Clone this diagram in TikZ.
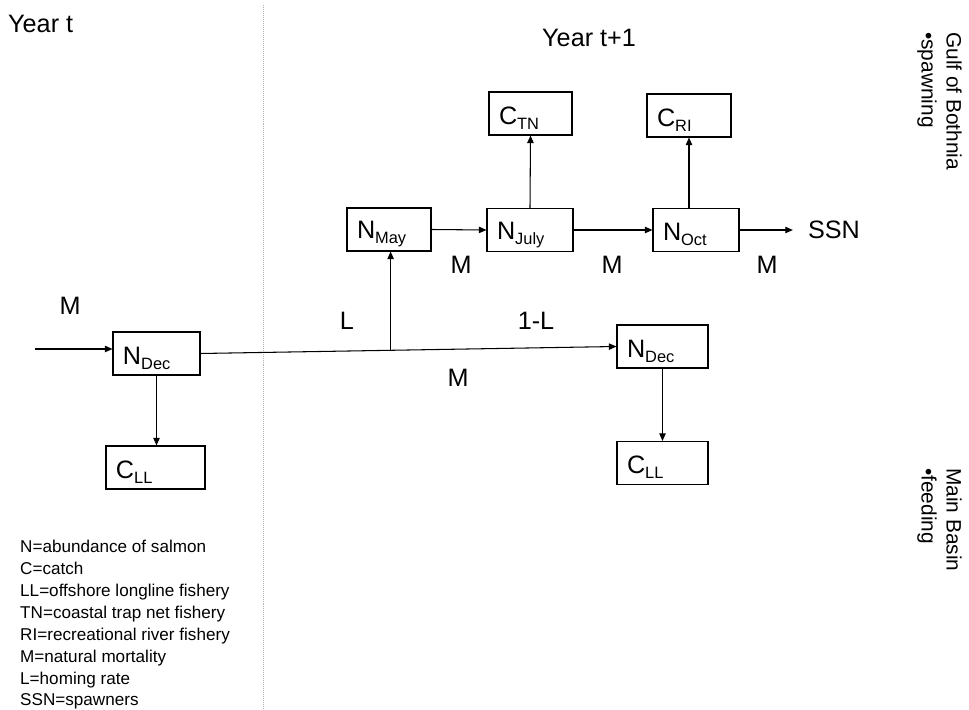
\documentclass[tikz,border=0pt]{standalone}
\usepackage{fontspec}
\setmainfont{Liberation Sans}
\usetikzlibrary{arrows.meta,calc,positioning}
\newcommand{\lowtxt}[1]{\raisebox{-4.5pt}{\fontsize{14}{14}\selectfont #1}}
\tikzset{
    mybox/.style={draw=black,line width=0.9pt,minimum height=1.29cm,inner xsep=0.3cm,inner ysep=0pt,
        text width=#1,align=left,font=\fontsize{21.5}{24}\selectfont,
        execute at begin node={\rule[-5pt]{0pt}{28pt}}},
    myarrow/.style={line width=0.9pt,draw=black,-{Triangle[length=6.5pt,width=5.5pt]}},
    mylabel/.style={inner sep=0pt,font=\fontsize{21.5}{24}\selectfont},
    myside/.style={inner sep=0pt,align=left,rotate=-90,anchor=north west,font=\fontsize{17.8}{21.4}\selectfont},
    mylegend/.style={inner sep=0pt,align=left,anchor=north west,font=\fontsize{14.6}{18.7}\selectfont}
}
\begin{document}
\begin{tikzpicture}[x=0.03cm,y=-0.03cm]
  \useasboundingbox (0,0) rectangle (969,710);
  \draw[gray!60,densely dotted,line width=0.7pt] (263,5) -- (263,710);
  \node[mylabel,anchor=base west] (yearA) at (8,33) {Year t};
  \node[mylabel,anchor=base west] (yearB) at (542,47) {Year t+1};
  \node[mybox=2.01cm] (ndecA) at (156.5,353.5) {N\lowtxt{Dec}};
  \node[mybox=2.37cm] (cllA) at (155.5,467.5) {C\lowtxt{LL}};
  \node[mybox=1.92cm] (nmay) at (389,229.5) {N\lowtxt{May}};
  \node[mybox=1.98cm] (njuly) at (530,230) {N\lowtxt{July}};
  \node[mybox=1.98cm] (noct) at (696,230) {N\lowtxt{Oct}};
  \node[mybox=1.89cm] (ctn) at (530.5,113.5) {C\lowtxt{TN}};
  \node[mybox=1.92cm] (cri) at (689,115.5) {C\lowtxt{RI}};
  \node[mybox=2.13cm] (ndecB) at (662.5,346.5) {N\lowtxt{Dec}};
  \node[mybox=2.13cm] (cllB) at (662.5,463) {C\lowtxt{LL}};
  \node[mylabel,inner xsep=0.45cm] (ssn) at (834,230) {SSN};
  \coordinate (inM) at (35,349);
  \coordinate (split) at ($(ndecA.east)!0.457!(ndecB.west)$);
  \draw[myarrow] (inM) -- (inM -| ndecA.west);
  \draw[myarrow] (ndecA.south) -- (ndecA.south |- cllA.north);
  \draw[myarrow] (ndecA.east) -- (ndecB.west);
  \draw[myarrow] (split) -- (split |- nmay.south);
  \draw[myarrow] (ndecB.south) -- (cllB.north);
  \draw[myarrow] (nmay.east) -- (njuly.west);
  \draw[myarrow] (njuly.east) -- (noct.west);
  \draw[myarrow] (noct.east) -- (ssn.west);
  \draw[myarrow] (njuly.north) -- (ctn.south);
  \draw[myarrow] (cri.south |- noct.north) -- (cri.south);
  \node[mylabel] (mIn) at (70,306) {M};
  \node[mylabel] (lHome) at (347,321) {L};
  \node[mylabel] (lStay) at (536,321) {1-L};
  \node[mylabel] (mFeed) at (458,378) {M};
  \node[mylabel] (mJuly) at (461,265) {M};
  \node[mylabel] (mOct) at (612,265) {M};
  \node[mylabel] (mSsn) at (767,265) {M};
  \node[myside] (gulf) at (962,32) {Gulf of Bothnia\\•spawning};
  \node[myside] (basin) at (962,468) {Main Basin\\•feeding};
  \node[mylegend] (legend) at (20,540) {N=abundance of salmon\\C=catch\\LL=offshore longline fishery\\
    TN=coastal trap net fishery\\RI=recreational river fishery\\M=natural mortality\\L=homing rate\\SSN=spawners};
\end{tikzpicture}
\end{document}
